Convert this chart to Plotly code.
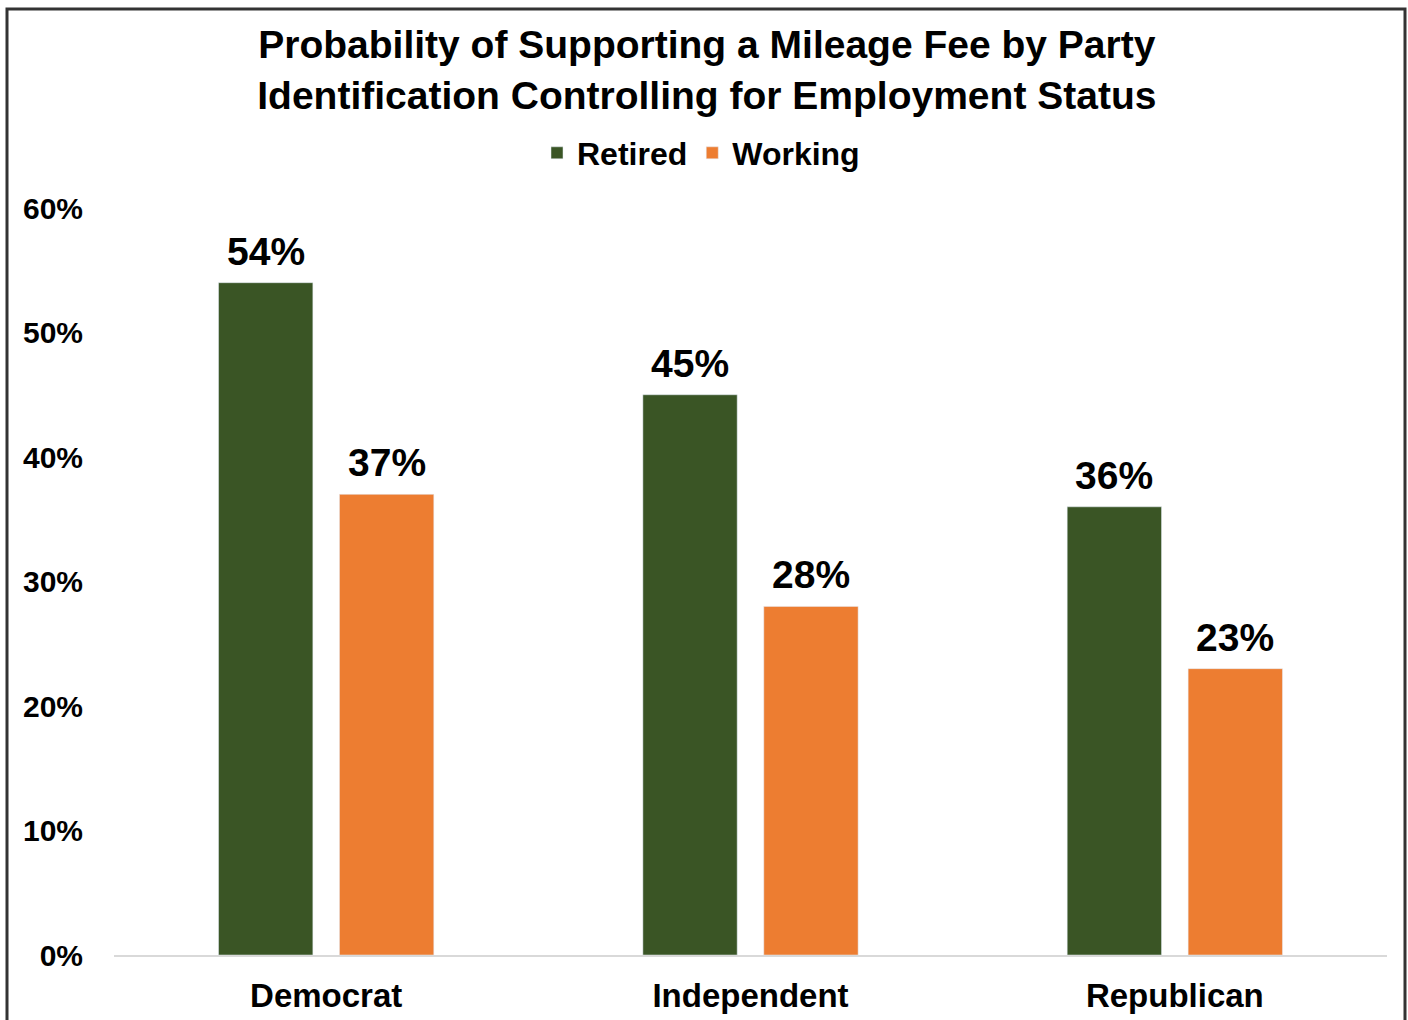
import plotly.graph_objects as go

categories = ["Democrat", "Independent", "Republican"]
retired = [0.54, 0.45, 0.36]
working = [0.37, 0.28, 0.23]
y_ticks = [0, 0.1, 0.2, 0.3, 0.4, 0.5, 0.6]
y_tick_labels = ["0%", "10%", "20%", "30%", "40%", "50%", "60%"]

FONT = "Liberation Sans, Arial, sans-serif"
GREEN = "#3A5525"
ORANGE = "#ED7D31"

L, R, T, B = 114, 21, 208, 65
W, H = 1408, 1020
pw, ph = W - L - R, H - T - B

def px_to_paper_x(px):
    return (px - L) / pw

def px_to_paper_y(py):
    return (H - B - py) / ph

fig = go.Figure()
fig.add_trace(go.Bar(name="<b>Retired</b>", x=categories, y=retired, marker_color=GREEN))
fig.add_trace(go.Bar(name="<b>Working</b>", x=categories, y=working, marker_color=ORANGE))

# data labels above each bar
offset = 60.5
for vals, shift in ((retired, -offset), (working, offset)):
    for c, v in zip(categories, vals):
        fig.add_annotation(x=c, y=v, xref="x", yref="y", text=f"<b>{v:.0%}</b>",
                           showarrow=False, xshift=shift, yanchor="bottom", yshift=8,
                           font=dict(family=FONT, size=39, color="black"))

fig.update_layout(
    width=W, height=H,
    margin=dict(l=L, r=R, t=T, b=B),
    paper_bgcolor="white", plot_bgcolor="white",
    barmode="group", bargap=0.43, bargroupgap=0.22,
    font=dict(family=FONT, color="black"),
    title=dict(text="<b>Probability of Supporting a Mileage Fee by Party<br>Identification Controlling for Employment Status</b>",
               x=0.502, xanchor="center", y=1 - 58 / H, yanchor="middle",
               font=dict(family=FONT, size=39, color="black")),
    legend=dict(orientation="h", x=px_to_paper_x(701), xanchor="center",
                y=px_to_paper_y(153), yanchor="middle",
                font=dict(family=FONT, size=32, color="black"),
                itemwidth=30, traceorder="normal"),
    showlegend=True,
)

fig.update_yaxes(range=[0, 0.6], tickvals=y_ticks, ticktext=[f"<b>{t}</b>" for t in y_tick_labels],
                 showgrid=False, zeroline=False, showline=False, automargin=False,
                 tickfont=dict(family=FONT, size=30, color="black"), ticklabelstandoff=30)
fig.update_xaxes(showline=True, linecolor="#D9D9D9", linewidth=2, automargin=False,
                 tickvals=categories, ticktext=[f"<b>{c}</b>" for c in categories],
                 tickfont=dict(family=FONT, size=33, color="black"), ticklabelstandoff=10)

fig.add_shape(type="rect", xref="paper", yref="paper",
              x0=px_to_paper_x(7), x1=px_to_paper_x(1405),
              y0=px_to_paper_y(1040), y1=px_to_paper_y(9),
              line=dict(color="#333333", width=3), fillcolor="rgba(0,0,0,0)", layer="above")

fig.write_html("out.html")
